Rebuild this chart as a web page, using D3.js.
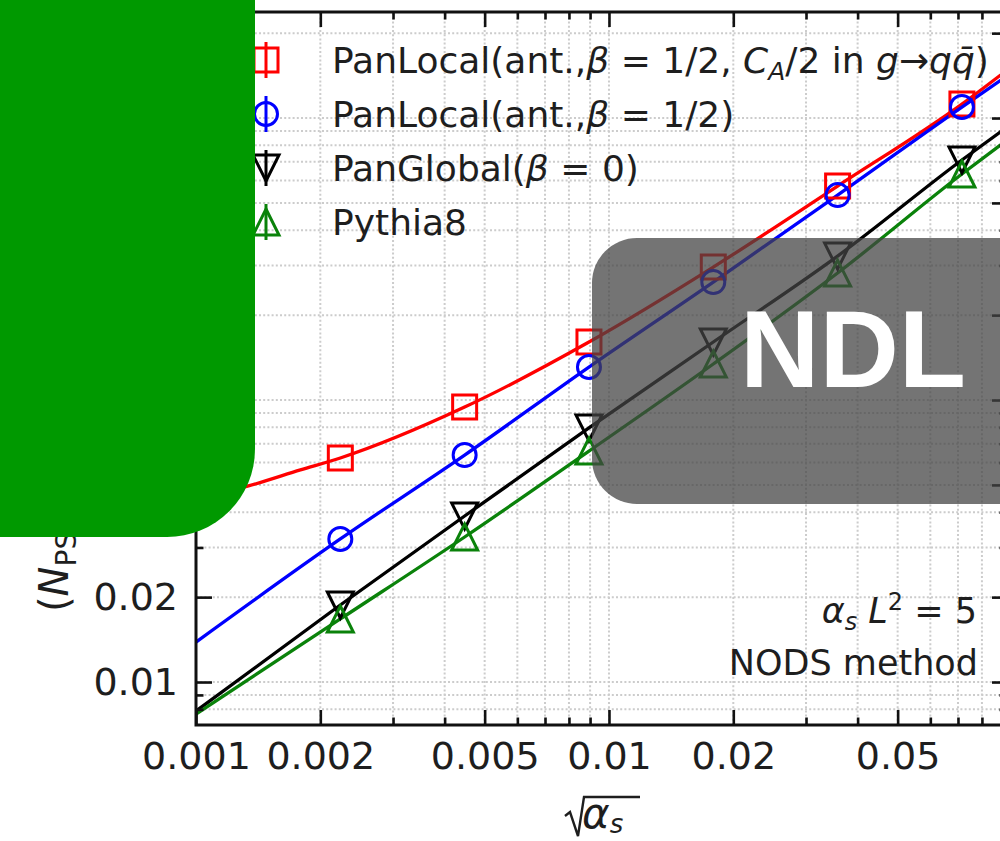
<!DOCTYPE html>
<html><head><meta charset="utf-8">
<script src="https://cdn.jsdelivr.net/npm/d3@7"></script>
<style>body{margin:0;background:#fff}svg{display:block}text{font-family:"DejaVu Sans",sans-serif;fill:#1e1e1e}</style>
</head><body><svg id="c" width="1000" height="841"></svg>
<script>
// ---- data ----
const sqrtAlphaS = [0.002236, 0.004472, 0.008944, 0.017889, 0.035777, 0.071554];
const panLocalCA = [0.0623, 0.0944, 0.1606, 0.2962, 0.574, 1.121];
const panLocal   = [0.03216, 0.0638, 0.1309, 0.262, 0.533, 1.094];
const panGlobal  = [0.01875, 0.0388, 0.0796, 0.1606, 0.324, 0.710];
const pythia8    = [0.01673, 0.03268, 0.0659, 0.1342, 0.282, 0.633];

// fit curves
const fitXRed   = [0.001, 0.00134, 0.00179, 0.002236, 0.004472, 0.008944, 0.017889, 0.035777, 0.071554, 0.092];
const fitRed    = [0.0449, 0.0496, 0.0565, 0.0623, 0.0944, 0.1606, 0.2962, 0.574, 1.121, 1.479];
const fitX      = [0.001, 0.002236, 0.004472, 0.008944, 0.017889, 0.035777, 0.071554, 0.092];
const fitBlue   = [0.01386, 0.03216, 0.0638, 0.1309, 0.262, 0.533, 1.094, 1.409];
const fitBlack  = [0.00789, 0.01875, 0.0388, 0.0796, 0.1606, 0.324, 0.710, 0.929];
const fitGreen  = [0.0077, 0.01673, 0.03268, 0.0659, 0.1342, 0.282, 0.633, 0.835];

const xMajor = [0.001, 0.002, 0.005, 0.01, 0.02, 0.05];
const xMajorLabels = ["0.001", "0.002", "0.005", "0.01", "0.02", "0.05"];
const xMinor = [0.003, 0.004, 0.006, 0.007, 0.008, 0.009, 0.03, 0.04, 0.06, 0.07, 0.08, 0.09];
const yMajor = [0.01, 0.02, 0.05, 0.1, 0.2, 0.5, 1, 2];
const yMajorLabels = ["0.01", "0.02", "0.05", "0.1", "0.2", "0.5", "1", "2"];
const yMinor = [0.008, 0.009, 0.03, 0.04, 0.06, 0.07, 0.08, 0.09, 0.3, 0.4, 0.6, 0.7, 0.8, 0.9];
const xDomain = [0.001, 0.092];
const yDomain = [0.00704, 2.377];

const seriesNames = ["panLocalCA", "panLocal", "panGlobal", "pythia8"];
const seriesColors = ["#ff0000", "#0000ff", "#000000", "#0a820a"];
const seriesMarkers = ["square", "circle", "tridown", "triup"];

// ---- drawing ----
const svg = d3.select("#c");
const L = 196, R = 1007, T = 12, B = 725;
const x = d3.scaleLog().domain(xDomain).range([L, R]);
const y = d3.scaleLog().domain(yDomain).range([B, T]);

svg.append("rect").attr("width", 1000).attr("height", 841).attr("fill", "#fff");

// grid
const grid = svg.append("g").attr("stroke", "#cccccc").attr("stroke-width", 2).attr("stroke-dasharray", "2,2.2");
xMajor.concat(xMinor).forEach(v => grid.append("line").attr("x1", x(v)).attr("x2", x(v)).attr("y1", B).attr("y2", T));
yMajor.concat(yMinor).forEach(v => grid.append("line").attr("y1", y(v)).attr("y2", y(v)).attr("x1", L).attr("x2", R));

// fit lines
const line = d3.line().x(d => x(d[0])).y(d => y(d[1])).curve(d3.curveMonotoneX);
const fits = [[fitXRed, fitRed], [fitX, fitBlue], [fitX, fitBlack], [fitX, fitGreen]];
const plot = svg.append("g");
fits.forEach((f, i) => {
  plot.append("path").datum(f[0].map((v, j) => [v, f[1][j]]))
    .attr("d", line).attr("fill", "none").attr("stroke", seriesColors[i]).attr("stroke-width", 3.3);
});

function markerPath(type) {
  const s = 12, t = 13;
  if (type === "square") return `M${-s},${-s}H${s}V${s}H${-s}Z`;
  if (type === "circle") { const p = d3.path(); p.arc(0, 0, 11.5, 0, 2 * Math.PI); return p.toString(); }
  if (type === "triup") return `M0,${-t}L${t},${t}L${-t},${t}Z`;
  if (type === "tridown") return `M0,${t}L${t},${-t}L${-t},${-t}Z`;
}
const allSeries = [panLocalCA, panLocal, panGlobal, pythia8];
allSeries.forEach((ser, i) => {
  plot.selectAll(null).data(ser.map((v, j) => [sqrtAlphaS[j], v])).enter().append("path")
    .attr("d", markerPath(seriesMarkers[i]))
    .attr("transform", d => `translate(${x(d[0])},${y(d[1])})`)
    .attr("fill", "none").attr("stroke", seriesColors[i]).attr("stroke-width", 3);
});

// axes (inward ticks on all sides)
function styleAxis(g) {
  g.select(".domain").remove();
  g.selectAll(".tick line").attr("stroke", "#111").attr("stroke-width", 2.6);
  g.selectAll("text").attr("font-size", 38);
}
const fmtX = (d) => xMajorLabels[xMajor.indexOf(d)];
const fmtY = (d) => yMajorLabels[yMajor.indexOf(d)];
svg.append("g").attr("transform", `translate(0,${B})`)
  .call(d3.axisBottom(x).tickValues(xMajor).tickFormat(fmtX).tickSize(-15).tickPadding(17)).call(styleAxis);
svg.append("g").attr("transform", `translate(0,${B})`)
  .call(d3.axisBottom(x).tickValues(xMinor).tickFormat("").tickSize(-7.5)).call(styleAxis);
svg.append("g").attr("transform", `translate(0,${T})`)
  .call(d3.axisTop(x).tickValues(xMajor).tickFormat("").tickSize(-15)).call(styleAxis);
svg.append("g").attr("transform", `translate(0,${T})`)
  .call(d3.axisTop(x).tickValues(xMinor).tickFormat("").tickSize(-7.5)).call(styleAxis);
svg.append("g").attr("transform", `translate(${L},0)`)
  .call(d3.axisLeft(y).tickValues(yMajor).tickFormat(fmtY).tickSize(-16).tickPadding(18)).call(styleAxis);
svg.append("g").attr("transform", `translate(${L},0)`)
  .call(d3.axisLeft(y).tickValues(yMinor).tickFormat("").tickSize(-7.5)).call(styleAxis);
svg.append("g").attr("transform", `translate(${R},0)`)
  .call(d3.axisRight(y).tickValues(yMajor).tickFormat("").tickSize(-15)).call(styleAxis);
svg.append("g").attr("transform", `translate(${R},0)`)
  .call(d3.axisRight(y).tickValues(yMinor).tickFormat("").tickSize(-7.5)).call(styleAxis);

// spines
svg.append("rect").attr("x", L).attr("y", T).attr("width", R - L).attr("height", B - T)
  .attr("fill", "none").attr("stroke", "#111").attr("stroke-width", 3);

// legend
const legendRows = [60, 114, 168, 222];
const leg = svg.append("g");
seriesNames.forEach((n, i) => {
  const cy = legendRows[i];
  leg.append("line").attr("x1", 266).attr("x2", 266).attr("y1", cy - 18).attr("y2", cy + 18)
    .attr("stroke", seriesColors[i]).attr("stroke-width", 3);
  leg.append("path").attr("d", markerPath(seriesMarkers[i])).attr("transform", `translate(266,${cy})`)
    .attr("fill", "none").attr("stroke", seriesColors[i]).attr("stroke-width", 3);
});
function legText(i) {
  return leg.append("text").attr("x", 332).attr("y", legendRows[i] + 13).attr("font-size", 36);
}
let t0 = legText(0);
t0.append("tspan").text("PanLocal(ant.,");
t0.append("tspan").attr("font-style", "italic").text("β");
t0.append("tspan").text(" = 1/2, ");
t0.append("tspan").attr("font-style", "italic").text("C");
t0.append("tspan").attr("font-style", "italic").attr("font-size", 25).attr("dy", 7).text("A");
t0.append("tspan").attr("dy", -7).text("/2 in ");
t0.append("tspan").attr("font-style", "italic").text("g");
t0.append("tspan").text("→");
t0.append("tspan").attr("font-style", "italic").text("q");
t0.append("tspan").attr("font-style", "italic").text("q\u0304");
t0.append("tspan").text(")");
let t1 = legText(1);
t1.append("tspan").text("PanLocal(ant.,");
t1.append("tspan").attr("font-style", "italic").text("β");
t1.append("tspan").text(" = 1/2)");
let t2 = legText(2);
t2.append("tspan").text("PanGlobal(");
t2.append("tspan").attr("font-style", "italic").text("β");
t2.append("tspan").text(" = 0)");
legText(3).text("Pythia8");

// annotation
const a1 = svg.append("text").attr("x", 977).attr("y", 623).attr("text-anchor", "end").attr("font-size", 35);
a1.append("tspan").attr("font-style", "italic").text("α");
a1.append("tspan").attr("font-style", "italic").attr("font-size", 24).attr("dy", 7).text("s");
a1.append("tspan").attr("font-style", "italic").attr("dy", -7).text(" L");
a1.append("tspan").attr("font-size", 24).attr("dy", -13).text("2");
a1.append("tspan").attr("dy", 13).text(" = 5");
svg.append("text").attr("x", 978).attr("y", 675).attr("text-anchor", "end").attr("font-size", 35).text("NODS method");

// x label
svg.append("path").attr("d", "M565,816L570,812L578,836L584,797L640,797")
  .attr("fill", "none").attr("stroke", "#1e1e1e").attr("stroke-width", 2.4);
const xl = svg.append("text").attr("x", 582).attr("y", 828).attr("font-size", 42);
xl.append("tspan").attr("font-style", "italic").text("α");
xl.append("tspan").attr("font-style", "italic").attr("font-size", 26).attr("dy", 5).text("s");

// y label
const yl = svg.append("text").attr("transform", "translate(68,612) rotate(-90)").attr("font-size", 40);
yl.append("tspan").text("(");
yl.append("tspan").attr("font-style", "italic").text("N");
yl.append("tspan").attr("font-size", 28).attr("dy", 8).text("PS");
yl.append("tspan").attr("dy", -8).text(" − ");
yl.append("tspan").attr("font-style", "italic").text("N");
yl.append("tspan").attr("font-size", 28).attr("dy", 8).text("NDL");
yl.append("tspan").attr("dy", -8).text(")/");
yl.append("tspan").attr("font-style", "italic").text("N");
yl.append("tspan").attr("font-size", 28).attr("dy", 8).text("NDL");

// overlays
svg.append("rect").attr("x", -200).attr("y", -200).attr("width", 455).attr("height", 737).attr("rx", 88)
  .attr("fill", "#009900");
svg.append("rect").attr("x", 592).attr("y", 238).attr("width", 520).attr("height", 266).attr("rx", 45)
  .attr("fill", "rgba(68,68,68,0.74)");
svg.append("text").attr("x", 853).attr("y", 387).attr("text-anchor", "middle")
  .style("font-family", "'Liberation Sans', Arial, sans-serif").style("font-weight", "bold")
  .attr("font-size", 110).style("fill", "#fff").text("NDL");
</script></body></html>
